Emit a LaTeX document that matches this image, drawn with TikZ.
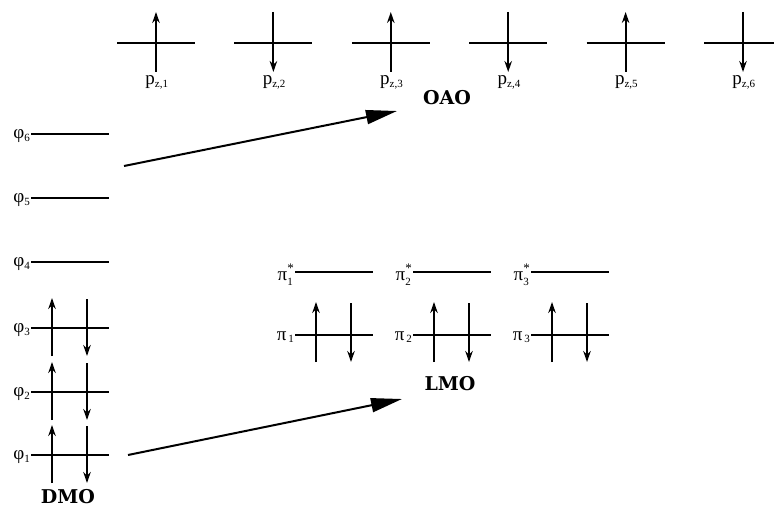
\documentclass[tikz,border=0pt]{standalone}
\usepackage{fontspec}
\setmainfont{Liberation Serif}
\newfontfamily\boldlab{DejaVu Serif}
\usetikzlibrary{arrows.meta}
\newcommand\subsupx[3]{#1\ensuremath{^{\raisebox{1.5pt}{\fontsize{13}{13}\selectfont #2}}_{\raisebox{-1pt}{\fontsize{11}{11}\selectfont #3}}}}
\newcommand\subx[2]{#1\ensuremath{_{\mbox{\fontsize{11}{11}\selectfont #2}}}}
\begin{document}
\begin{tikzpicture}[x=1pt,y=-1pt,
  level/.style={line width=1.4pt},
  spin/.style={line width=2pt,-{Stealth[length=11pt,width=7.5pt]}},
  big/.style={line width=2pt,-{Triangle[length=31pt,width=14pt]}},
  lab/.style={font=\fontsize{19}{19}\selectfont, inner sep=1pt},
  title/.style={font=\fontsize{19}{19}\selectfont\boldlab\bfseries, inner sep=0pt}]
\useasboundingbox (0,0) rectangle (774,508);
% atomic orbitals
\foreach \i in {1,...,6}{
  \pgfmathsetmacro\cx{156+(\i-1)*117.4}
  \coordinate (pl\i) at (\cx-39,43);
  \coordinate (pr\i) at (\cx+39,43);
  \coordinate (pt\i) at (\cx,12);
  \coordinate (pb\i) at (\cx,72);
  \draw[level] (pl\i) -- (pr\i);
  \node[lab, anchor=base] (plab\i) at (\cx+1,85) {\subx{p}{z,\i}};
}
\foreach \i in {1,3,5}{\draw[spin] (pb\i) -- (pt\i);}
\foreach \i in {2,4,6}{\draw[spin] (pt\i) -- (pb\i);}
\node[title] (oao) at (447,98) {OAO};
% delocalized MOs
\foreach \i/\y in {1/455,2/392,3/328,4/262,5/198,6/134}{
  \coordinate (fl\i) at (31,\y);
  \coordinate (fr\i) at (109,\y);
  \draw[level] (fl\i) -- (fr\i);
  \node[lab, anchor=east, inner sep=0.5pt] (flab\i) at ([yshift=-2pt]fl\i) {\subx{φ}{\i}};
}
\foreach \i/\y in {1/455,2/392,3/328}{
  \coordinate (fu\i a) at (52,\y+28);
  \coordinate (fu\i b) at (52,\y-30);
  \coordinate (fd\i a) at (87,\y-29);
  \coordinate (fd\i b) at (87,\y+28);
  \draw[spin] (fu\i a) -- (fu\i b);
  \draw[spin] (fd\i a) -- (fd\i b);
}
\node[title] (dmo) at (68,497) {DMO};
% localized MOs
\foreach \i/\x in {1/295,2/413,3/531}{
  \coordinate (sl\i) at (\x,272);
  \coordinate (sr\i) at (\x+78,272);
  \coordinate (ql\i) at (\x,335);
  \coordinate (qr\i) at (\x+78,335);
  \draw[level] (sl\i) -- (sr\i);
  \draw[level] (ql\i) -- (qr\i);
  \node[lab, anchor=east, inner sep=0.5pt] (slab\i) at ([yshift=-3pt]sl\i) {\subsupx{π}{*}{\i}};
  \node[lab, anchor=east, inner sep=0.5pt] (qlab\i) at ([yshift=-2pt]ql\i) {\subx{π}{\,\i}};
  \coordinate (qu\i a) at (\x+21,362);
  \coordinate (qu\i b) at (\x+21,302);
  \coordinate (qd\i a) at (\x+56,303);
  \coordinate (qd\i b) at (\x+56,362);
  \draw[spin] (qu\i a) -- (qu\i b);
  \draw[spin] (qd\i a) -- (qd\i b);
}
\node[title] (lmo) at (450,384) {LMO};
% big arrows
\coordinate (a1s) at (124,166);
\coordinate (a1e) at (397,111);
\coordinate (a2s) at (128,455);
\coordinate (a2e) at (402,399);
\draw[big] (a1s) -- (a1e);
\draw[big] (a2s) -- (a2e);
\end{tikzpicture}
\end{document}
